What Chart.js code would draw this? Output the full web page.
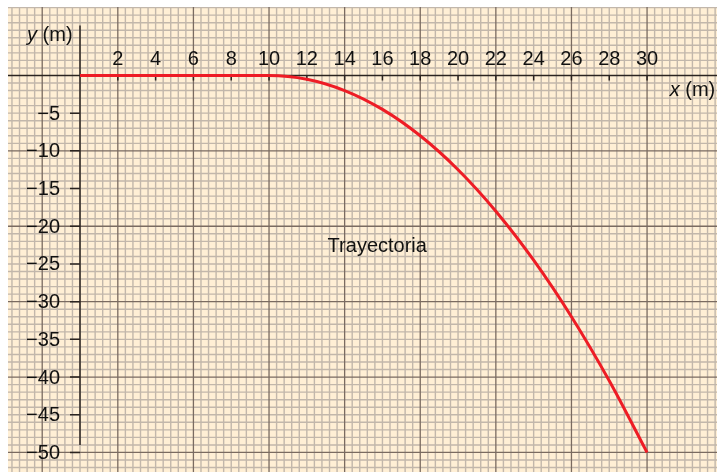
<!DOCTYPE html>
<html>
<head>
<meta charset="utf-8">
<title>Trayectoria</title>
<script src="https://cdn.jsdelivr.net/npm/chart.js@4.4.1/dist/chart.umd.min.js"></script>
<style>
  html, body { margin: 0; padding: 0; background: #fff; }
  #wrap { width: 717px; height: 472px; }
</style>
</head>
<body>
<div id="wrap"><canvas id="tray" width="717" height="472"></canvas></div>
<script>
// values
const xValues = [0, 10, 12, 14, 16, 18, 20, 22, 24, 26, 28, 30];
const yValues = [0, 0, -0.5, -2, -4.5, -8, -12.5, -18, -24.5, -32, -40.5, -50];
const xTicks = [2, 4, 6, 8, 10, 12, 14, 16, 18, 20, 22, 24, 26, 28, 30];
const yTicks = [-5, -10, -15, -20, -25, -30, -35, -40, -45, -50];
const curveLabel = 'Trayectoria';

const FONT = '"Liberation Sans", Arial, sans-serif';
const fmt = (v) => (v < 0 ? '\u2212' + Math.abs(v) : String(v));

const points = xValues.map((x, i) => ({ x, y: yValues[i] }));

// graph paper, axes and labels, all placed through the chart scales
const paper = {
  id: 'paper',
  beforeDatasetsDraw(chart) {
    const { ctx, scales } = chart;
    const xs = scales.x;
    const ys = scales.y;
    const W = chart.width;
    const H = chart.height;
    const left = 8;
    const top = 7;
    const x0 = xs.getPixelForValue(0);
    const y0 = ys.getPixelForValue(0);

    ctx.save();
    ctx.fillStyle = '#ffffff';
    ctx.fillRect(0, 0, W, H);
    ctx.fillStyle = '#ffefd5';
    ctx.fillRect(left, top, W - left, H - top);

    ctx.beginPath();
    ctx.rect(left, top, W - left, H - top);
    ctx.clip();

    // minor lines: 0.4 m across, 1 m down
    ctx.strokeStyle = '#c2b7ab';
    ctx.lineWidth = 1.4;
    ctx.beginPath();
    for (let k = -12; k <= 86; k++) {
      if ((k - 5) % 10 === 0) continue;
      const px = xs.getPixelForValue(k * 0.4);
      ctx.moveTo(px, 0); ctx.lineTo(px, H);
    }
    for (let v = -53; v <= 11; v++) {
      if (v % 10 === 0) continue;
      const py = ys.getPixelForValue(v);
      ctx.moveTo(0, py); ctx.lineTo(W, py);
    }
    ctx.stroke();

    // major lines
    ctx.strokeStyle = '#7a6b61';
    ctx.lineWidth = 1.3;
    ctx.beginPath();
    for (let k = -15; k <= 95; k += 10) {
      const px = xs.getPixelForValue(k * 0.4);
      ctx.moveTo(px, 0); ctx.lineTo(px, H);
    }
    for (let v = -60; v <= 10; v += 10) {
      if (v === 0) continue;
      const py = ys.getPixelForValue(v);
      ctx.moveTo(0, py); ctx.lineTo(W, py);
    }
    ctx.stroke();

    // axes
    ctx.strokeStyle = '#2b2420';
    ctx.lineWidth = 1.5;
    ctx.beginPath();
    ctx.moveTo(0, y0); ctx.lineTo(W, y0);
    ctx.moveTo(x0, y0 - 50); ctx.lineTo(x0, ys.getPixelForValue(-49));
    xTicks.forEach((v) => {
      const px = xs.getPixelForValue(v);
      ctx.moveTo(px, y0); ctx.lineTo(px, y0 + 5);
    });
    yTicks.forEach((v) => {
      const py = ys.getPixelForValue(v);
      ctx.moveTo(x0 - 10, py); ctx.lineTo(x0, py);
    });
    ctx.stroke();

    // tick labels
    ctx.fillStyle = '#111111';
    ctx.font = '20px ' + FONT;
    ctx.textBaseline = 'alphabetic';
    ctx.textAlign = 'center';
    xTicks.forEach((v) => {
      ctx.fillText(fmt(v), xs.getPixelForValue(v), y0 - 10.5);
    });
    ctx.textAlign = 'right';
    yTicks.forEach((v) => {
      ctx.fillText(fmt(v), x0 - 20, ys.getPixelForValue(v) + 6.5);
    });

    // axis names
    ctx.textAlign = 'left';
    ctx.font = 'italic 20px ' + FONT;
    ctx.fillText('y', x0 - 53, y0 - 34.5);
    let w = ctx.measureText('y').width;
    ctx.font = '20px ' + FONT;
    ctx.fillText(' (m)', x0 - 53 + w, y0 - 34.5);

    ctx.font = 'italic 20px ' + FONT;
    ctx.fillText('x', xs.getPixelForValue(31.2), y0 + 20.5);
    w = ctx.measureText('x').width;
    ctx.font = '20px ' + FONT;
    ctx.fillText(' (m)', xs.getPixelForValue(31.2) + w, y0 + 20.5);

    // curve name
    ctx.fillText(curveLabel, xs.getPixelForValue(13.1), ys.getPixelForValue(-23.4));
    ctx.restore();
  },
};

new Chart(document.getElementById('tray'), {
  type: 'scatter',
  data: {
    datasets: [{
      label: curveLabel,
      data: points,
      showLine: true,
      borderColor: '#ee1c25',
      borderWidth: 3,
      pointRadius: 0,
      cubicInterpolationMode: 'monotone',
      fill: false,
    }],
  },
  options: {
    responsive: false,
    animation: false,
    layout: { padding: 0 },
    plugins: {
      legend: { display: false },
      tooltip: { enabled: false },
    },
    scales: {
      x: { type: 'linear', display: false, min: -4.233, max: 33.70 },
      y: { type: 'linear', display: false, min: -52.59, max: 10.01 },
    },
  },
  plugins: [paper],
});
</script>
</body>
</html>
